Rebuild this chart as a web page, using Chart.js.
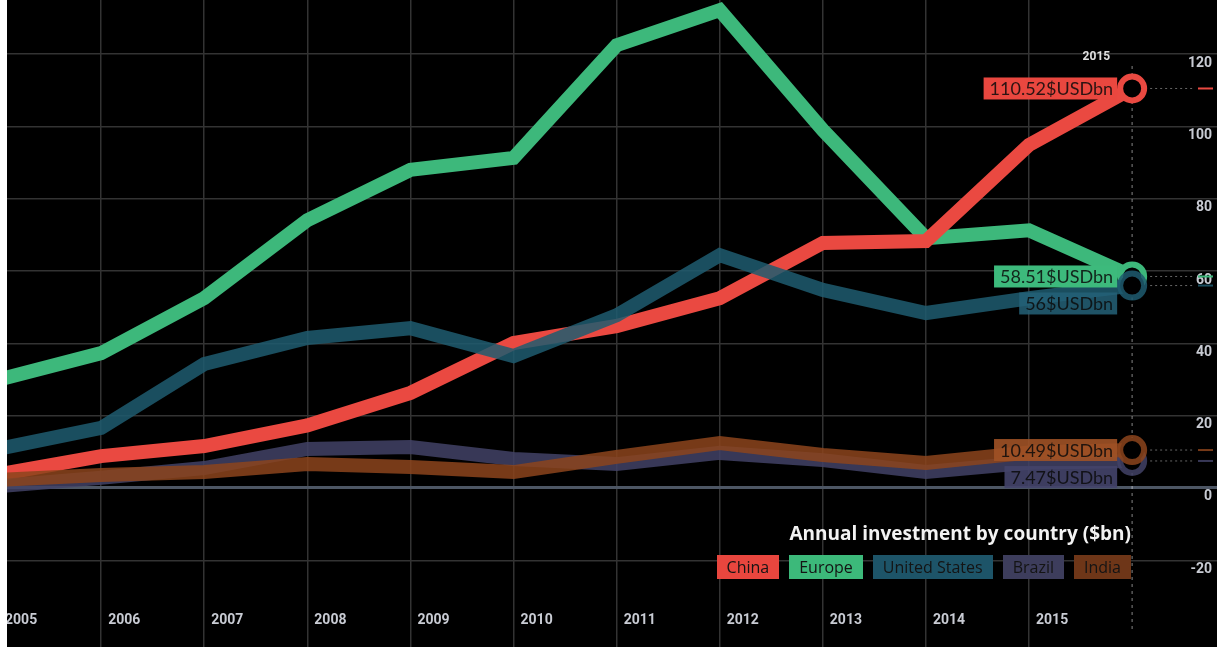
<!DOCTYPE html>
<html>
<head>
<meta charset="utf-8">
<title>Annual investment by country</title>
<script src="https://cdn.jsdelivr.net/npm/chart.js@4.4.0/dist/chart.umd.min.js"></script>
<style>
  html, body { margin: 0; padding: 0; width: 1217px; height: 647px; background: #fff; overflow: hidden; }
  #wrap { position: absolute; left: 7px; top: 0; width: 1210px; height: 647px; background: #000; }
  #legend { position: absolute; right: 86px; top: 520px; text-align: right; font-family: "Open Sans", Lato, sans-serif; }
  #legend .title { font-size: 19px; font-weight: 700; color: #f2f2f2; margin-bottom: 9px; line-height: 26px; }
  #legend .keys { display: flex; justify-content: flex-end; gap: 10px; }
  #legend .keys span { display: inline-block; height: 24px; line-height: 24px; padding: 0 10px; font-size: 16px; color: #141414; }
</style>
</head>
<body>
<div id="wrap">
  <canvas id="chart"></canvas>
  <div id="legend">
    <div class="title">Annual investment by country ($bn)</div>
    <div class="keys"></div>
  </div>
</div>
<script>
// tick labels along the bottom
const years = ['2005', '2006', '2007', '2008', '2009', '2010', '2011', '2012', '2013', '2014', '2015'];
const yTicks = [-20, 0, 20, 40, 60, 80, 100, 120];

// series values ($bn), 12 points each, last one is the highlighted 2015 value
const china  = [3.7, 8.8, 11.6, 17.3, 26.3, 40.1, 44.8, 52.5, 67.8, 68.3, 94.9, 110.52];
const europe = [29.9, 37.3, 52.5, 74.1, 88.0, 91.3, 122.5, 132.2, 99.0, 69.1, 71.3, 58.51];
const usa    = [10.8, 16.6, 34.3, 41.5, 44.2, 36.5, 47.8, 64.4, 54.8, 48.4, 52.5, 56];
const brazil = [0.5, 2.8, 5.5, 10.8, 11.3, 8.0, 6.6, 9.7, 7.7, 4.4, 7.0, 7.47];
const india  = [2.2, 3.6, 4.4, 6.6, 5.8, 4.4, 8.6, 12.4, 9.1, 6.9, 9.8, 10.49];

const names = ['China', 'Europe', 'United States', 'Brazil', 'India'];
const values = [china, europe, usa, brazil, india];
const lineColors = ['#ea4941', '#3db87b', 'rgba(31,92,112,0.85)', 'rgba(66,66,102,0.85)', 'rgba(140,68,28,0.85)'];
const boxColors  = ['#e9473f', '#3dba7c', 'rgba(36,98,120,0.85)', 'rgba(68,68,106,0.9)', 'rgba(160,82,38,0.9)'];
const keyColors  = ['#e8463e', '#3cb97a', '#1d5468', '#3d3d5c', '#6e3618'];
const drawOrder  = [3, 4, 2, 1, 0];
const lastIdx = china.length - 1;

// legend chips
const keys = document.querySelector('#legend .keys');
names.forEach((n, i) => {
    const s = document.createElement('span');
    s.textContent = n;
    s.style.background = keyColors[i];
    keys.appendChild(s);
});

// scales must use the whole canvas, no room kept for labels
const noPad = s => {
    s.paddingLeft = s.paddingRight = s.paddingTop = s.paddingBottom = 0;
};

// dashed 2015 marker, value boxes and right-hand guides
const endLabels = {
    id: 'endLabels',
    beforeDatasetsDraw(chart) {
        const { ctx, scales: { x } } = chart;
        const px = x.getPixelForValue(lastIdx);
        ctx.save();
        ctx.setLineDash([3, 4]);
        ctx.strokeStyle = 'rgba(255,255,255,0.35)';
        ctx.lineWidth = 1.5;
        ctx.beginPath();
        ctx.moveTo(px, 66);
        ctx.lineTo(px, 632);
        ctx.stroke();
        ctx.restore();
    },
    afterDatasetsDraw(chart) {
        const { ctx, scales: { x } } = chart;
        const px = x.getPixelForValue(lastIdx);
        ctx.save();

        // guides to the axis
        values.forEach((v, i) => {
            const py = chart.getDatasetMeta(i).data[lastIdx].y;
            ctx.setLineDash([2, 3]);
            ctx.strokeStyle = 'rgba(255,255,255,0.4)';
            ctx.lineWidth = 1;
            ctx.beginPath();
            ctx.moveTo(px + 18, py);
            ctx.lineTo(chart.width - 22, py);
            ctx.stroke();
            ctx.setLineDash([]);
            ctx.strokeStyle = lineColors[i];
            ctx.lineWidth = 2;
            ctx.beginPath();
            ctx.moveTo(chart.width - 19, py);
            ctx.lineTo(chart.width - 4, py);
            ctx.stroke();
        });

        // value boxes, pushed down when they would overlap
        const items = values.map((v, i) => ({ i, y: chart.getDatasetMeta(i).data[lastIdx].y }))
            .sort((a, b) => a.y - b.y);
        let prev = -100;
        items.forEach(it => {
            it.y = Math.max(it.y, prev + 27);
            prev = it.y;
        });
        ctx.font = '18px Lato, "Open Sans", sans-serif';
        ctx.textBaseline = 'middle';
        ctx.textAlign = 'right';
        items.forEach(it => {
            const txt = values[it.i][lastIdx] + '$USDbn';
            const w = ctx.measureText(txt).width + 10;
            const right = px - 15;
            ctx.fillStyle = boxColors[it.i];
            ctx.fillRect(right - w, it.y - 11, w, 22);
            ctx.fillStyle = 'rgba(10,10,10,0.85)';
            ctx.fillText(txt, right - 4, it.y + 1);
        });

        ctx.font = 'bold 12px Roboto, sans-serif';
        ctx.fillStyle = '#e0e0e0';
        ctx.fillText(years[years.length - 1], px - 22, 57);
        ctx.restore();
    }
};

const datasets = names.map((n, i) => ({
    label: n,
    data: values[i].map((v, j) => ({ x: j, y: v })),
    borderColor: lineColors[i],
    borderWidth: 14,
    tension: 0,
    order: drawOrder[i],
    pointRadius: c => c.dataIndex === lastIdx ? 12 : 0,
    pointBorderWidth: 6,
    pointBorderColor: lineColors[i],
    pointBackgroundColor: '#000'
}));

const chart = new Chart(document.getElementById('chart'), {
    type: 'line',
    data: { datasets },
    options: {
        responsive: true,
        maintainAspectRatio: false,
        animation: false,
        events: [],
        layout: { padding: 0, autoPadding: false },
        plugins: { legend: { display: false }, tooltip: { enabled: false } },
        scales: {
            x: {
                type: 'linear',
                position: 'bottom',
                min: 0.087,
                max: 11.823,
                afterFit: s => { s.height = 0; noPad(s); },
                afterBuildTicks: s => { s.ticks = years.map((_, i) => ({ value: i })); },
                grid: { color: '#333', lineWidth: 1.5, drawTicks: false },
                border: { display: false },
                ticks: {
                    autoSkip: false,
                    maxRotation: 0,
                    mirror: true,
                    align: 'start',
                    labelOffset: 7,
                    padding: 18,
                    color: '#c8cbd3',
                    font: { family: 'Roboto', size: 14, weight: 'bold' },
                    callback: v => years[v]
                }
            },
            y: {
                position: 'right',
                min: -44,
                max: 135,
                afterFit: s => { s.width = 0; noPad(s); },
                afterBuildTicks: s => { s.ticks = yTicks.map(v => ({ value: v })); },
                grid: {
                    color: c => c.tick.value === 0 ? '#4d5664' : '#333',
                    lineWidth: c => c.tick.value === 0 ? 3 : 1.5,
                    drawTicks: false
                },
                border: { display: false },
                ticks: {
                    mirror: true,
                    padding: -5,
                    labelOffset: 9,
                    color: '#c8cbd3',
                    font: { family: 'Roboto', size: 14, weight: 'bold' }
                }
            }
        }
    },
    plugins: [endLabels]
});
</script>
</body>
</html>
